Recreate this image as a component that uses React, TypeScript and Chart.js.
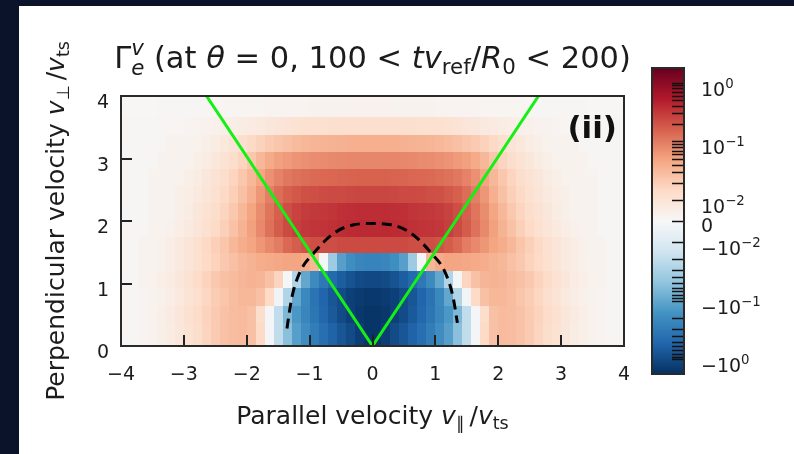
import React, { useEffect, useRef } from "react";
import { Chart, registerables } from "chart.js";

Chart.register(...registerables);

// ---------------- data ----------------
const vParMin = -4;
const vParMax = 4;
const nParCells = 56;
const vPerpEdges = [0, 0.363, 0.64, 0.923, 1.205, 1.483, 1.75, 2.016, 2.283, 2.565, 2.832, 3.109, 3.376, 3.669, 4.0];

const gammaRow0 = [0.0012, 0.0012, 0.0019, 0.0026, 0.0042, 0.006, 0.0082, 0.011, 0.0131, 0.0167, 0.0212, 0.0254, 0.0286, 0.03, 0.027, 0.0148, -0.0015, -0.02, -0.055, -0.12, -0.194, -0.295, -0.423, -0.57, -0.77, -0.98, -1.32, -1.58,
  -1.58, -1.32, -0.98, -0.77, -0.57, -0.423, -0.295, -0.194, -0.12, -0.055, -0.02, -0.0015, 0.0148, 0.027, 0.03, 0.0286, 0.0254, 0.0212, 0.0167, 0.0131, 0.011, 0.0082, 0.006, 0.0042, 0.0026, 0.0019, 0.0012, 0.0012];
const gammaRow1 = [0.0012, 0.0012, 0.0019, 0.0034, 0.0045, 0.0065, 0.009, 0.0116, 0.0139, 0.0177, 0.0212, 0.0254, 0.0286, 0.03, 0.027, 0.0131, -0.0015, -0.02, -0.066, -0.144, -0.232, -0.353, -0.506, -0.72, -0.98, -1.24, -1.49, -1.58,
  -1.58, -1.49, -1.24, -0.98, -0.72, -0.506, -0.353, -0.232, -0.144, -0.066, -0.02, -0.0015, 0.0131, 0.027, 0.03, 0.0286, 0.0254, 0.0212, 0.0177, 0.0139, 0.0116, 0.009, 0.0065, 0.0045, 0.0034, 0.0019, 0.0012, 0.0012];
const gammaRow2 = [0.0012, 0.0012, 0.0019, 0.0026, 0.0036, 0.0055, 0.0075, 0.0103, 0.0124, 0.0157, 0.02, 0.024, 0.0286, 0.032, 0.032, 0.027, 0.0148, -0.0022, -0.027, -0.1, -0.219, -0.375, -0.537, -0.77, -0.98, -1.24, -1.4, -1.49,
  -1.49, -1.4, -1.24, -0.98, -0.77, -0.537, -0.375, -0.219, -0.1, -0.027, -0.0022, 0.0148, 0.027, 0.032, 0.032, 0.0286, 0.024, 0.02, 0.0157, 0.0124, 0.0103, 0.0075, 0.0055, 0.0036, 0.0026, 0.0019, 0.0012, 0.0012];
const gammaRow3 = [0.0012, 0.0012, 0.0026, 0.0034, 0.0045, 0.0062, 0.0082, 0.011, 0.0139, 0.0177, 0.0225, 0.027, 0.03, 0.034, 0.036, 0.034, 0.027, 0.0167, -0.0015, -0.027, -0.1, -0.206, -0.333, -0.476, -0.643, -0.82, -0.98, -1.04,
  -1.04, -0.98, -0.82, -0.643, -0.476, -0.333, -0.206, -0.1, -0.027, -0.0015, 0.0167, 0.027, 0.034, 0.036, 0.034, 0.03, 0.027, 0.0225, 0.0177, 0.0139, 0.011, 0.0082, 0.0062, 0.0045, 0.0034, 0.0026, 0.0012, 0.0012];
const gammaRow4 = [0.0012, 0.0012, 0.0026, 0.0026, 0.0036, 0.0055, 0.0075, 0.0096, 0.0116, 0.0148, 0.0177, 0.0225, 0.027, 0.032, 0.036, 0.041, 0.044, 0.046, 0.049, 0.049, 0.044, 0.032, -0.0015, -0.0385, -0.12, -0.183, -0.232, -0.247,
  -0.247, -0.232, -0.183, -0.12, -0.0385, -0.0015, 0.032, 0.044, 0.049, 0.049, 0.046, 0.044, 0.041, 0.036, 0.032, 0.027, 0.0225, 0.0177, 0.0148, 0.0116, 0.0096, 0.0075, 0.0055, 0.0036, 0.0026, 0.0026, 0.0012, 0.0012];
const gammaRow5 = [0.0012, 0.0012, 0.0026, 0.0026, 0.0036, 0.0055, 0.0075, 0.0096, 0.0116, 0.015, 0.019, 0.024, 0.032, 0.041, 0.049, 0.062, 0.079, 0.1, 0.14, 0.17, 0.2, 0.22, 0.22, 0.22, 0.23, 0.23, 0.23, 0.23,
  0.23, 0.23, 0.23, 0.23, 0.22, 0.22, 0.22, 0.2, 0.17, 0.14, 0.1, 0.079, 0.062, 0.049, 0.041, 0.032, 0.024, 0.019, 0.015, 0.0116, 0.0096, 0.0075, 0.0055, 0.0036, 0.0026, 0.0026, 0.0012, 0.0012];
const gammaRow6 = [0.0012, 0.0012, 0.0012, 0.0026, 0.0026, 0.0036, 0.0055, 0.0075, 0.0096, 0.0116, 0.0148, 0.0188, 0.0254, 0.036, 0.052, 0.079, 0.12, 0.172, 0.232, 0.278, 0.313, 0.33, 0.34, 0.353, 0.38, 0.39, 0.398, 0.398,
  0.398, 0.398, 0.39, 0.38, 0.353, 0.34, 0.33, 0.313, 0.278, 0.232, 0.172, 0.12, 0.079, 0.052, 0.036, 0.0254, 0.0188, 0.0148, 0.0116, 0.0096, 0.0075, 0.0055, 0.0036, 0.0026, 0.0026, 0.0012, 0.0012, 0.0012];
const gammaRow7 = [0.0012, 0.0012, 0.0012, 0.0026, 0.0026, 0.0026, 0.0042, 0.006, 0.0082, 0.011, 0.0131, 0.0167, 0.0225, 0.032, 0.049, 0.0745, 0.113, 0.162, 0.219, 0.262, 0.295, 0.31, 0.32, 0.333, 0.36, 0.37, 0.375, 0.375,
  0.375, 0.375, 0.37, 0.36, 0.333, 0.32, 0.31, 0.295, 0.262, 0.219, 0.162, 0.113, 0.0745, 0.049, 0.032, 0.0225, 0.0167, 0.0131, 0.011, 0.0082, 0.006, 0.0042, 0.0026, 0.0026, 0.0026, 0.0012, 0.0012, 0.0012];
const gammaRow8 = [0.0012, 0.0012, 0.0012, 0.0026, 0.0026, 0.0026, 0.0042, 0.0055, 0.0075, 0.0096, 0.0116, 0.015, 0.019, 0.027, 0.0385, 0.062, 0.095, 0.128, 0.162, 0.183, 0.206, 0.215, 0.225, 0.232, 0.235, 0.24, 0.247, 0.247,
  0.247, 0.247, 0.24, 0.235, 0.232, 0.225, 0.215, 0.206, 0.183, 0.162, 0.128, 0.095, 0.062, 0.0385, 0.027, 0.019, 0.015, 0.0116, 0.0096, 0.0075, 0.0055, 0.0042, 0.0026, 0.0026, 0.0026, 0.0012, 0.0012, 0.0012];
const gammaRow9 = [0.0012, 0.0012, 0.0012, 0.0026, 0.0026, 0.0026, 0.0034, 0.0042, 0.006, 0.0082, 0.011, 0.013, 0.017, 0.023, 0.032, 0.049, 0.07, 0.089, 0.107, 0.12, 0.128, 0.135, 0.14, 0.144, 0.148, 0.15, 0.153, 0.153,
  0.153, 0.153, 0.15, 0.148, 0.144, 0.14, 0.135, 0.128, 0.12, 0.107, 0.089, 0.07, 0.049, 0.032, 0.023, 0.017, 0.013, 0.011, 0.0082, 0.006, 0.0042, 0.0034, 0.0026, 0.0026, 0.0026, 0.0012, 0.0012, 0.0012];
const gammaRow10 = [0.0012, 0.0012, 0.0012, 0.0012, 0.0026, 0.0026, 0.0026, 0.0034, 0.0042, 0.006, 0.0082, 0.011, 0.013, 0.017, 0.023, 0.032, 0.044, 0.052, 0.059, 0.066, 0.07, 0.075, 0.077, 0.079, 0.082, 0.083, 0.084, 0.084,
  0.084, 0.084, 0.083, 0.082, 0.079, 0.077, 0.075, 0.07, 0.066, 0.059, 0.052, 0.044, 0.032, 0.023, 0.017, 0.013, 0.011, 0.0082, 0.006, 0.0042, 0.0034, 0.0026, 0.0026, 0.0026, 0.0012, 0.0012, 0.0012, 0.0012];
const gammaRow11 = [0.0012, 0.0012, 0.0012, 0.0012, 0.0012, 0.0026, 0.0026, 0.0026, 0.0034, 0.0042, 0.006, 0.008, 0.0098, 0.012, 0.015, 0.018, 0.021, 0.024, 0.027, 0.03, 0.032, 0.034, 0.035, 0.036, 0.037, 0.038, 0.0385, 0.0385,
  0.0385, 0.0385, 0.038, 0.037, 0.036, 0.035, 0.034, 0.032, 0.03, 0.027, 0.024, 0.021, 0.018, 0.015, 0.012, 0.0098, 0.008, 0.006, 0.0042, 0.0034, 0.0026, 0.0026, 0.0026, 0.0012, 0.0012, 0.0012, 0.0012, 0.0012];
const gammaRow12 = [0.001, 0.001, 0.001, 0.0012, 0.0012, 0.0015, 0.0018, 0.0022, 0.0026, 0.003, 0.0036, 0.0044, 0.0052, 0.006, 0.0068, 0.0076, 0.0085, 0.0094, 0.0102, 0.011, 0.0114, 0.0116, 0.0118, 0.012, 0.0122, 0.0123, 0.0124, 0.0124,
  0.0124, 0.0124, 0.0123, 0.0122, 0.012, 0.0118, 0.0116, 0.0114, 0.011, 0.0102, 0.0094, 0.0085, 0.0076, 0.0068, 0.006, 0.0052, 0.0044, 0.0036, 0.003, 0.0026, 0.0022, 0.0018, 0.0015, 0.0012, 0.0012, 0.001, 0.001, 0.001];
const gammaRow13 = [0.0006, 0.0006, 0.0006, 0.0006, 0.0009, 0.0009, 0.0009, 0.0009, 0.0012, 0.0012, 0.0013, 0.0014, 0.0015, 0.0016, 0.0017, 0.0018, 0.0019, 0.002, 0.0021, 0.0022, 0.0023, 0.0024, 0.0025, 0.0026, 0.0027, 0.0028, 0.003, 0.003,
  0.003, 0.003, 0.0028, 0.0027, 0.0026, 0.0025, 0.0024, 0.0023, 0.0022, 0.0021, 0.002, 0.0019, 0.0018, 0.0017, 0.0016, 0.0015, 0.0014, 0.0013, 0.0012, 0.0012, 0.0009, 0.0009, 0.0009, 0.0009, 0.0006, 0.0006, 0.0006, 0.0006];

const gammaRows = [gammaRow0, gammaRow1, gammaRow2, gammaRow3, gammaRow4, gammaRow5, gammaRow6, gammaRow7,
  gammaRow8, gammaRow9, gammaRow10, gammaRow11, gammaRow12, gammaRow13];

// trapped/passing boundary (green V)
const boundaryX = [-2.64, 0, 2.64];
const boundaryY = [4, 0, 4];
// resonance curve (black dashed)
const resonanceX = [-1.36, -1.34, -1.28, -1.15, -0.94, -0.62, -0.3, 0, 0.3, 0.62, 0.94, 1.15, 1.28, 1.35];
const resonanceY = [0.28, 0.42, 0.79, 1.19, 1.48, 1.8, 1.94, 1.96, 1.94, 1.8, 1.48, 1.19, 0.79, 0.37];

const xTickValues = [-4, -3, -2, -1, 0, 1, 2, 3, 4];
const yTickValues = [0, 1, 2, 3, 4];
const cbarMajorValues = [1, 0.1, 0.01, 0, -0.01, -0.1, -1];
const cbarMajorLabels = [["10", "0"], ["10", "−1"], ["10", "−2"], ["0", ""], ["−10", "−2"], ["−10", "−1"], ["−10", "0"]];

const VMAX = 1.78;
const LINTHRESH = 0.01;
const LINSCALE = 0.354;

// ---------------- helpers ----------------
const FONT = '"DejaVu Sans", sans-serif';
const TEXT = "#1c1c1c";
const RDBU_R = ["#053061", "#2166ac", "#4393c3", "#92c5de", "#d1e5f0", "#f7f7f7", "#fddbc7", "#f4a582", "#d6604d", "#b2182b", "#67001f"];

function hexToRgb(h: string) {
  return [parseInt(h.slice(1, 3), 16), parseInt(h.slice(3, 5), 16), parseInt(h.slice(5, 7), 16)];
}
const RDBU_RGB = RDBU_R.map(hexToRgb);
function cmap(u: number) {
  const uu = Math.max(0, Math.min(1, u));
  const p = uu * 10;
  const i = Math.min(9, Math.floor(p));
  const f = p - i;
  const a = RDBU_RGB[i], b = RDBU_RGB[i + 1];
  const c = [0, 1, 2].map((j) => Math.round(a[j] + (b[j] - a[j]) * f));
  return `rgb(${c[0]},${c[1]},${c[2]})`;
}
function symlog(v: number) {
  const a = Math.abs(v);
  const s = a <= LINTHRESH ? (LINSCALE * a) / LINTHRESH : LINSCALE + Math.log10(a / LINTHRESH);
  return Math.sign(v) * s;
}
const SMAX = symlog(VMAX);
function normU(v: number) {
  return (symlog(v) / SMAX + 1) / 2;
}
function colorFor(v: number) {
  return cmap(normU(v));
}

type Seg = { s: string; it?: boolean; bold?: boolean; sc?: number; dy?: number; stack?: boolean };
function segFont(size: number, sg: Seg) {
  return `${sg.it ? "italic " : ""}${sg.bold ? "bold " : ""}${(size * (sg.sc ?? 1)).toFixed(2)}px ${FONT}`;
}
function drawRich(ctx: CanvasRenderingContext2D, segs: Seg[], size: number, x: number, y: number, align: "left" | "center" | "right") {
  let cx = 0, prevStart = 0, prevW = 0;
  const items: { sg: Seg; x: number }[] = [];
  for (const sg of segs) {
    ctx.font = segFont(size, sg);
    const w = ctx.measureText(sg.s).width;
    if (sg.stack) {
      items.push({ sg, x: prevStart });
      const nw = Math.max(prevW, w);
      cx = prevStart + nw;
      prevW = nw;
    } else {
      items.push({ sg, x: cx });
      prevStart = cx;
      prevW = w;
      cx += w;
    }
  }
  const x0 = align === "center" ? x - cx / 2 : align === "right" ? x - cx : x;
  ctx.textAlign = "left";
  ctx.textBaseline = "alphabetic";
  ctx.fillStyle = TEXT;
  for (const it of items) {
    ctx.font = segFont(size, it.sg);
    ctx.fillText(it.sg.s, x0 + it.x, y + (it.sg.dy ?? 0) * size);
  }
}

const vParEdges: number[] = [];
for (let k = 0; k <= nParCells; k++) vParEdges.push(vParMin + ((vParMax - vParMin) * k) / nParCells);

// ---------------- plugins ----------------
const backgroundPlugin = {
  id: "bgPanel",
  beforeDraw(chart: any) {
    const ctx = chart.ctx as CanvasRenderingContext2D;
    ctx.save();
    ctx.fillStyle = "#0b132b";
    ctx.fillRect(0, 0, chart.width, chart.height);
    ctx.fillStyle = "#ffffff";
    ctx.fillRect(19, 6, chart.width - 19, chart.height - 6);
    ctx.restore();
  },
};

const heatmapPlugin = {
  id: "heatmap",
  beforeDatasetsDraw(chart: any) {
    const { ctx, chartArea, scales } = chart;
    const xs = scales.x, ys = scales.y;
    ctx.save();
    ctx.beginPath();
    ctx.rect(chartArea.left, chartArea.top, chartArea.right - chartArea.left, chartArea.bottom - chartArea.top);
    ctx.clip();
    for (let i = 0; i < gammaRows.length; i++) {
      const yb = Math.round(ys.getPixelForValue(vPerpEdges[i]));
      const yt = Math.round(ys.getPixelForValue(vPerpEdges[i + 1]));
      const row = gammaRows[i];
      for (let k = 0; k < row.length; k++) {
        const x0 = Math.round(xs.getPixelForValue(vParEdges[k]));
        const x1 = Math.round(xs.getPixelForValue(vParEdges[k + 1]));
        ctx.fillStyle = colorFor(row[k]);
        ctx.fillRect(x0, yt, x1 - x0, yb - yt);
      }
    }
    ctx.restore();
  },
};

const axesPlugin = {
  id: "axesFrame",
  afterDatasetsDraw(chart: any) {
    const { ctx, chartArea, scales } = chart;
    const xs = scales.x, ys = scales.y;
    const { left, right, top, bottom } = chartArea;
    ctx.save();
    ctx.strokeStyle = "#222";
    ctx.lineWidth = 2;
    ctx.beginPath();
    for (const v of xTickValues) {
      const px = Math.round(xs.getPixelForValue(v));
      ctx.moveTo(px, bottom);
      ctx.lineTo(px, bottom - 11);
    }
    for (const v of yTickValues) {
      const py = Math.round(ys.getPixelForValue(v));
      ctx.moveTo(left, py);
      ctx.lineTo(left + 11, py);
    }
    ctx.stroke();
    ctx.strokeStyle = "#2a2a2a";
    ctx.lineWidth = 2;
    ctx.strokeRect(left, top, right - left, bottom - top);

    for (const v of xTickValues) {
      const px = xs.getPixelForValue(v);
      drawRich(ctx, [{ s: v < 0 ? "−" + Math.abs(v) : String(v) }], 19, px, bottom + 34, "center");
    }
    for (const v of yTickValues) {
      const py = ys.getPixelForValue(v);
      drawRich(ctx, [{ s: String(v) }], 19, left - 12, py + 12, "right");
    }

    ctx.font = `bold 31px ${FONT}`;
    ctx.fillStyle = "#111";
    ctx.textAlign = "right";
    ctx.textBaseline = "alphabetic";
    ctx.fillText("(ii)", right - 7, top + 42);

    const cx = (left + right) / 2;
    drawRich(ctx, [
      { s: "Γ" },
      { s: "e", it: true, sc: 0.7, dy: 0.24 },
      { s: "v", it: true, sc: 0.7, dy: -0.42, stack: true },
      { s: " (at " },
      { s: "θ", it: true },
      { s: " = 0, 100 < " },
      { s: "tv", it: true },
      { s: "ref", sc: 0.7, dy: 0.2 },
      { s: "/" },
      { s: "R", it: true },
      { s: "0", sc: 0.7, dy: 0.2 },
      { s: " < 200)" },
    ], 30.5, cx, top - 28, "center");

    drawRich(ctx, [
      { s: "Parallel velocity " },
      { s: "v", it: true },
      { s: "∥", sc: 0.7, dy: 0.2 },
      { s: "\u2009/" },
      { s: "v", it: true },
      { s: "ts", sc: 0.7, dy: 0.2 },
    ], 25, cx, bottom + 78, "center");

    ctx.save();
    ctx.translate(left - 57, (top + bottom) / 2);
    ctx.rotate(-Math.PI / 2);
    drawRich(ctx, [
      { s: "Perpendicular velocity " },
      { s: "v", it: true },
      { s: "⊥", sc: 0.7, dy: 0.2 },
      { s: "\u2009/" },
      { s: "v", it: true },
      { s: "ts", sc: 0.7, dy: 0.2 },
    ], 25, 0, 0, "center");
    ctx.restore();
    ctx.restore();
  },
};

const colorbarPlugin = {
  id: "colorbar",
  afterDraw(chart: any) {
    const ctx = chart.ctx as CanvasRenderingContext2D;
    const bx = 652, bw = 32, by = 68, bh = 306;
    ctx.save();
    for (let p = 0; p < bh; p++) {
      const u = 1 - (p + 0.5) / bh;
      ctx.fillStyle = cmap(u);
      ctx.fillRect(bx, by + p, bw, 1);
    }
    const yOf = (v: number) => by + (1 - normU(v)) * bh;
    const minors: number[] = [];
    for (const d of [0.01, 0.1, 1]) {
      for (let m = 2; m <= 9; m++) {
        if (m * d <= VMAX) {
          minors.push(m * d);
          minors.push(-m * d);
        }
      }
    }
    ctx.strokeStyle = "#111";
    ctx.lineWidth = 1.6;
    ctx.beginPath();
    for (const v of [...minors, ...cbarMajorValues]) {
      const y = Math.round(yOf(v)) + 0.5;
      ctx.moveTo(bx + bw, y);
      ctx.lineTo(bx + bw - 12, y);
    }
    ctx.stroke();
    ctx.strokeStyle = "#2a2a2a";
    ctx.lineWidth = 2;
    ctx.strokeRect(bx, by, bw, bh);
    cbarMajorValues.forEach((v, i) => {
      const [base, exp] = cbarMajorLabels[i];
      const y = yOf(v);
      if (exp === "") {
        drawRich(ctx, [{ s: base }], 19, bx + bw + 17, y + 11, "left");
      } else {
        drawRich(ctx, [{ s: base }, { s: exp, sc: 0.7, dy: -0.42 }], 19, bx + bw + 17, y + 13, "left");
      }
    });
    ctx.restore();
  },
};

// ---------------- component ----------------
export default function App() {
  const ref = useRef<HTMLCanvasElement>(null);
  useEffect(() => {
    const canvas = ref.current;
    if (!canvas) return;
    const chart = new Chart(canvas, {
      type: "scatter",
      data: {
        datasets: [
          {
            label: "boundary",
            data: boundaryX.map((x, i) => ({ x, y: boundaryY[i] })),
            showLine: true,
            borderColor: "#14f014",
            borderWidth: 3,
            pointRadius: 0,
            fill: false,
            order: 0,
          },
          {
            label: "resonance",
            data: resonanceX.map((x, i) => ({ x, y: resonanceY[i] })),
            showLine: true,
            borderColor: "#000000",
            borderWidth: 3,
            borderDash: [10, 6],
            pointRadius: 0,
            cubicInterpolationMode: "monotone",
            fill: false,
            order: 1,
          },
        ],
      } as any,
      options: {
        animation: false,
        responsive: false,
        maintainAspectRatio: false,
        devicePixelRatio: 1,
        layout: { padding: { left: 121, top: 96, right: 170, bottom: 108 } },
        plugins: { legend: { display: false }, tooltip: { enabled: false }, title: { display: false } },
        scales: {
          x: { type: "linear", min: vParMin, max: vParMax, display: false },
          y: { type: "linear", min: 0, max: 4, display: false },
        },
        events: [],
      } as any,
      plugins: [backgroundPlugin, heatmapPlugin, axesPlugin, colorbarPlugin],
    });
    return () => chart.destroy();
  }, []);
  return (
    <div style={{ position: "fixed", left: 0, top: 0, width: 794, height: 454 }}>
      <canvas ref={ref} width={794} height={454} style={{ width: 794, height: 454, display: "block" }} />
    </div>
  );
}
